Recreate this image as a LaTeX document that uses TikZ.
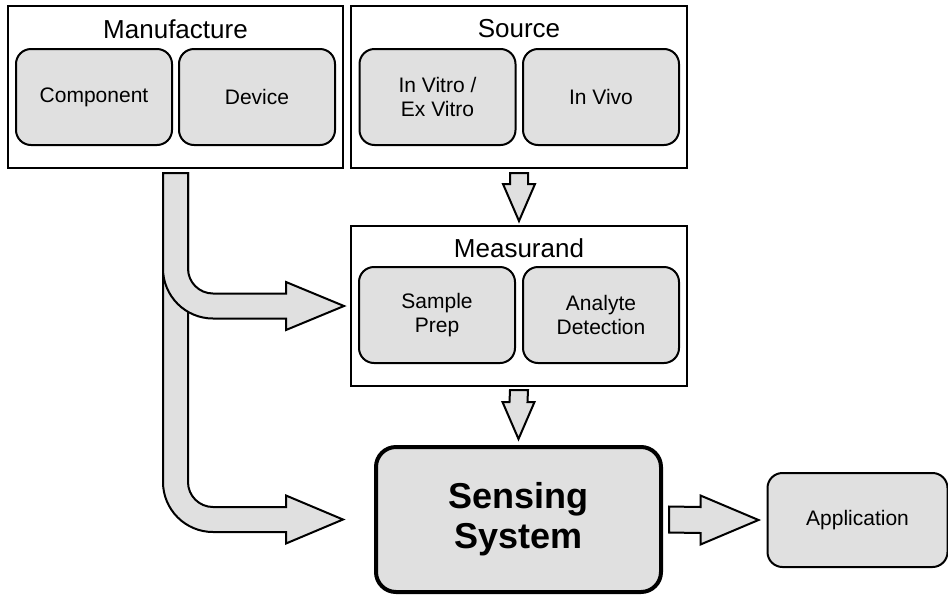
\documentclass[tikz,border=0pt]{standalone}
\usepackage{fontspec}
\setmainfont{Liberation Sans}
\usetikzlibrary{calc}
\definecolor{boxfill}{RGB}{224,224,224}
\tikzset{
  outerbox/.style={draw=black, line width=2pt, fill=white, rectangle, inner sep=0pt},
  innerbox/.style={draw=black, line width=2pt, fill=boxfill, rectangle, rounded corners=15pt,
     minimum width=156pt, minimum height=96pt, inner sep=0pt, align=center,
     font=\fontsize{21}{23.5}\selectfont},
  titletext/.style={anchor=base, inner sep=0pt, font=\fontsize{26}{28}\selectfont},
  blk/.style={draw=black, line width=2pt, fill=boxfill, line join=miter},
}
\begin{document}
\begin{tikzpicture}[x=1pt,y=-1pt]
\useasboundingbox (0,0) rectangle (948,595);
% outer boxes
\node[outerbox, minimum width=335pt, minimum height=162pt] (manu) at (175.5,87) {};
\node[outerbox, minimum width=336pt, minimum height=162pt] (source) at (519,87) {};
\node[outerbox, minimum width=336pt, minimum height=160pt] (meas) at (519,306) {};
% titles
\node[titletext] (manut) at (175.5,38) {Manufacture};
\node[titletext] (sourcet) at (519,37) {Source};
\node[titletext] (meast) at (519,257) {Measurand};
% inner boxes
\node[innerbox] (comp) at (94,97) {Component};
\node[innerbox] (dev) at (257,97) {Device};
\node[innerbox] (vitro) at (437.5,97) {In Vitro /\\Ex Vitro};
\node[innerbox] (vivo) at (601,97) {In Vivo};
\node[innerbox] (prep) at (437,315) {Sample\\Prep};
\node[innerbox] (anal) at (601,315) {Analyte\\Detection};
% sensing system and application
\node[draw=black, line width=4pt, fill=boxfill, rounded corners=20pt, minimum width=285pt,
  minimum height=145pt, inner sep=0pt, align=center,
  font=\bfseries\fontsize{36}{40}\selectfont] (sens) at (518.5,519.5) {Sensing\\System};
\node[innerbox, minimum width=180pt, minimum height=94pt] (app) at (857.5,520) {Application};
% block arrow: source -> measurand
\coordinate (a1s) at ($(source.south)+(0,4)$);
\coordinate (a1e) at ($(meas.north)+(0,-4)$);
\draw[blk] ($(a1s)+(-9,0)$) -- ($(a1e)+(-9,-37)$) -- ($(a1e)+(-16,-37)$) -- (a1e)
  -- ($(a1e)+(16,-37)$) -- ($(a1e)+(9,-37)$) -- ($(a1s)+(9,0)$) -- cycle;
% block arrow: measurand -> sensing
\coordinate (a2s) at ($(meas.south)+(0,3)$);
\coordinate (a2e) at ($(sens.north)+(0,-6)$);
\draw[blk] ($(a2s)+(-9,0)$) -- ($(a2e)+(-9,-37)$) -- ($(a2e)+(-16,-37)$) -- (a2e)
  -- ($(a2e)+(16,-37)$) -- ($(a2e)+(9,-37)$) -- ($(a2s)+(9,0)$) -- cycle;
% block arrow: sensing -> application
\coordinate (a3s) at ($(sens.east)+(6,0)$);
\coordinate (a3e) at ($(app.west)+(-8,0)$);
\draw[blk] ($(a3s)+(0,-13)$) -- ($(a3e)+(-58,-13)$) -- ($(a3e)+(-58,-24.5)$) -- (a3e)
  -- ($(a3e)+(-58,24.5)$) -- ($(a3e)+(-58,13)$) -- ($(a3s)+(0,13)$) -- cycle;
% manufacture arrows
\coordinate (mtop) at ($(manu.south)+(0,4)$);
\coordinate (b1tip) at ($(meas.west)+(-6,0)$);
\coordinate (b2tip) at ($(sens.west)+(-31,0)$);
% branch to sensing system
\draw[blk] ($(mtop)+(-12.5,0)$) -- ($(mtop|-b2tip)+(-12.5,-37.5)$)
  arc[start angle=180, end angle=90, radius=50]
  -- ($(b2tip)+(-57,12.5)$) -- ($(b2tip)+(-57,24)$) -- (b2tip)
  -- ($(b2tip)+(-57,-24)$) -- ($(b2tip)+(-57,-12.5)$)
  -- ($(mtop|-b2tip)+(37.5,-12.5)$)
  arc[start angle=90, end angle=180, radius=25]
  -- ($(mtop)+(12.5,0)$) -- cycle;
% branch to measurand
\draw[blk] ($(mtop)+(-12.5,0)$) -- ($(mtop|-b1tip)+(-12.5,-37.5)$)
  arc[start angle=180, end angle=90, radius=50]
  -- ($(b1tip)+(-58,12.5)$) -- ($(b1tip)+(-58,24)$) -- (b1tip)
  -- ($(b1tip)+(-58,-24)$) -- ($(b1tip)+(-58,-12.5)$)
  -- ($(mtop|-b1tip)+(37.5,-12.5)$)
  arc[start angle=90, end angle=180, radius=25]
  -- ($(mtop)+(12.5,0)$) -- cycle;
\end{tikzpicture}
\end{document}
